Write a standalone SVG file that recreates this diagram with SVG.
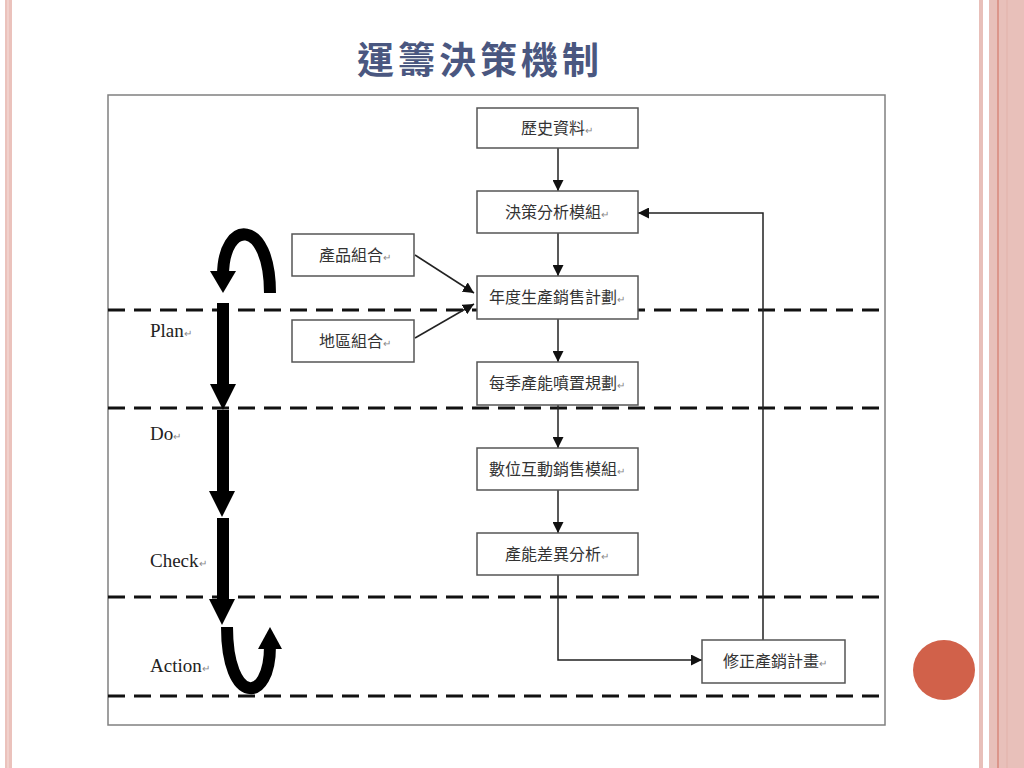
<svg xmlns="http://www.w3.org/2000/svg" width="1024" height="768" viewBox="0 0 1024 768">
<defs>
<style>
.box{fill:#fff;stroke:#555;stroke-width:1.5}
.bt{font-family:"Noto Sans CJK TC","Noto Sans CJK SC",sans-serif;font-size:16px;fill:#333;text-anchor:middle}
.rt{font-family:"Liberation Sans",sans-serif;font-size:10px;fill:#888}
.lbl{font-family:"Liberation Serif",serif;font-size:19px;fill:#222}
.dash{stroke:#111;stroke-width:3;stroke-dasharray:17 9;fill:none}
.con{stroke:#222;stroke-width:1.5;fill:none}
.fat{stroke:#000;stroke-width:12;fill:none}
</style>
<marker id="ah" viewBox="0 0 10 10" refX="10" refY="5" markerWidth="11" markerHeight="11" markerUnits="userSpaceOnUse" orient="auto">
<path d="M0,0 L10,5 L0,10 Z" fill="#111"/>
</marker>
</defs>
<rect width="1024" height="768" fill="#fff"/>
<!-- decoration -->
<rect x="5" y="0" width="7" height="768" fill="#ebc2bc"/>
<line x1="8" y1="0" x2="8" y2="768" stroke="#f6e0dc" stroke-width="1"/>
<rect x="979" y="0" width="4" height="768" fill="#e8bfb9"/>
<rect x="989" y="0" width="35" height="768" fill="#e8c0ba"/>
<line x1="998" y1="0" x2="998" y2="768" stroke="#cf6d5c" stroke-width="1"/>
<line x1="1007" y1="0" x2="1007" y2="768" stroke="#e2b2aa" stroke-width="1"/>
<ellipse cx="944" cy="670" rx="31" ry="30" fill="#d1614a"/>
<!-- title -->
<text x="480" y="74" text-anchor="middle" font-family="Noto Sans CJK TC, Noto Sans CJK SC, sans-serif" font-size="37" font-weight="700" fill="#4a5780" letter-spacing="4">運籌決策機制</text>
<!-- frame -->
<rect x="108" y="95" width="777" height="630" fill="none" stroke="#808080" stroke-width="1.5"/>
<g id="dashes">
<line class="dash" x1="108" y1="310" x2="885" y2="310"/>
<line class="dash" x1="108" y1="408" x2="885" y2="408"/>
<line class="dash" x1="108" y1="597" x2="885" y2="597"/>
<line class="dash" x1="108" y1="696" x2="885" y2="696"/>
</g>
<!-- connectors -->
<g id="connectors">
<line class="con" x1="558" y1="148" x2="558" y2="191" marker-end="url(#ah)"/>
<line class="con" x1="558" y1="233" x2="558" y2="276" marker-end="url(#ah)"/>
<line class="con" x1="558" y1="319" x2="558" y2="362" marker-end="url(#ah)"/>
<line class="con" x1="558" y1="405" x2="558" y2="448" marker-end="url(#ah)"/>
<line class="con" x1="558" y1="490" x2="558" y2="533" marker-end="url(#ah)"/>
<polyline class="con" points="558,575 558,660 702,660" marker-end="url(#ah)"/>
<polyline class="con" points="763,640 763,213 638,213" marker-end="url(#ah)"/>
<line class="con" x1="415" y1="255" x2="474" y2="293" marker-end="url(#ah)"/>
<line class="con" x1="415" y1="338" x2="474" y2="304" marker-end="url(#ah)"/>
</g>
<!-- nodes -->
<g id="n1"><rect class="box" x="477" y="108" width="161" height="40"/><text class="bt" x="557" y="134">歷史資料<tspan class="rt">↵</tspan></text></g>
<g id="n2"><rect class="box" x="477" y="191" width="161" height="42"/><text class="bt" x="557" y="218">決策分析模組<tspan class="rt">↵</tspan></text></g>
<g id="n3"><rect class="box" x="477" y="276" width="161" height="43"/><text class="bt" x="557" y="303">年度生產銷售計劃<tspan class="rt">↵</tspan></text></g>
<g id="n4"><rect class="box" x="477" y="362" width="161" height="43"/><text class="bt" x="557" y="389">每季產能噴置規劃<tspan class="rt">↵</tspan></text></g>
<g id="n5"><rect class="box" x="477" y="448" width="161" height="42"/><text class="bt" x="557" y="475">數位互動銷售模組<tspan class="rt">↵</tspan></text></g>
<g id="n6"><rect class="box" x="477" y="533" width="161" height="42"/><text class="bt" x="557" y="560">產能差異分析<tspan class="rt">↵</tspan></text></g>
<g id="n7"><rect class="box" x="702" y="640" width="143" height="43"/><text class="bt" x="775" y="667">修正產銷計畫<tspan class="rt">↵</tspan></text></g>
<g id="n8"><rect class="box" x="292" y="234" width="122" height="42"/><text class="bt" x="355" y="261">產品組合<tspan class="rt">↵</tspan></text></g>
<g id="n9"><rect class="box" x="292" y="320" width="122" height="42"/><text class="bt" x="355" y="347">地區組合<tspan class="rt">↵</tspan></text></g>
<!-- PDCA labels -->
<g id="labels">
<text class="lbl" x="150" y="337">Plan<tspan class="rt">↵</tspan></text>
<text class="lbl" x="150" y="440">Do<tspan class="rt">↵</tspan></text>
<text class="lbl" x="150" y="567">Check<tspan class="rt">↵</tspan></text>
<text class="lbl" x="150" y="672">Action<tspan class="rt">↵</tspan></text>
</g>
<!-- fat PDCA arrows -->
<g id="pdca">
<path class="fat" d="M270,293 C270,218 223,218 223,276"/>
<polygon points="210,271 236,271 223,293" fill="#000"/>
<rect x="217" y="303" width="12" height="82" fill="#000"/>
<polygon points="210,384 236,384 223,410" fill="#000"/>
<rect x="217" y="410" width="12" height="83" fill="#000"/>
<polygon points="209,491 235,491 222,517" fill="#000"/>
<rect x="217" y="518" width="12" height="83" fill="#000"/>
<polygon points="209,599 235,599 222,625" fill="#000"/>
<path class="fat" d="M227,627 C227,705 270,705 270,646" stroke-width="13"/>
<polygon points="258,649 282,649 270,627" fill="#000"/>
</g>
</svg>
